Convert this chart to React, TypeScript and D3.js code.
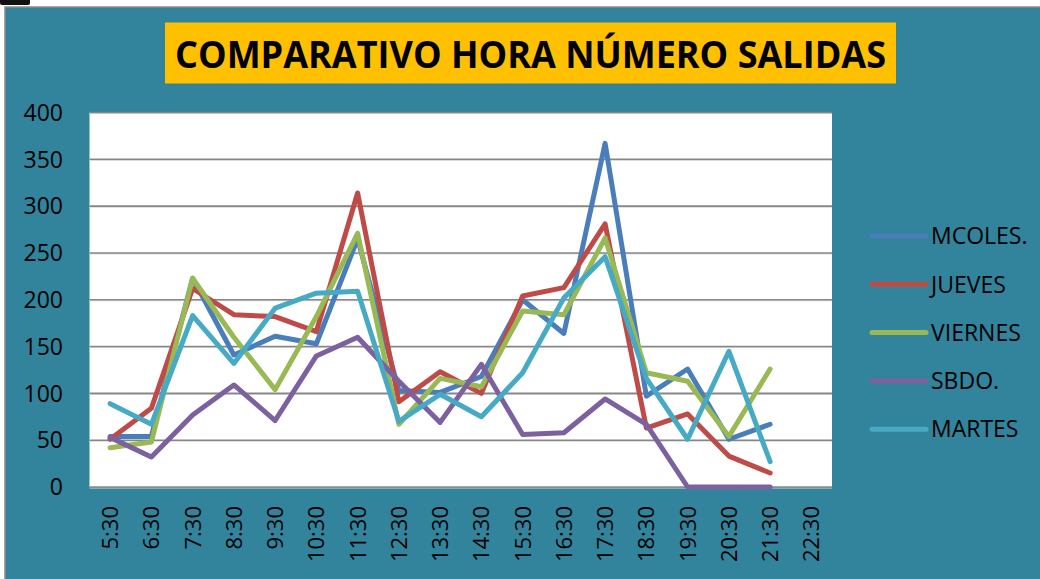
import React from "react";
import * as d3 from "d3";

const categories = ["5:30","6:30","7:30","8:30","9:30","10:30","11:30","12:30","13:30","14:30","15:30","16:30","17:30","18:30","19:30","20:30","21:30","22:30"];
const mcoles = [54, 54, 223, 141, 161, 153, 265, 103, 101, 118, 200, 164, 367, 97, 126, 51, 67, null];
const jueves = [51, 84, 212, 184, 182, 166, 314, 91, 123, 100, 204, 213, 281, 63, 78, 33, 15, null];
const viernes = [42, 48, 223, 160, 104, 182, 271, 67, 116, 107, 188, 184, 266, 122, 113, 54, 126, null];
const sbdo = [53, 32, 77, 109, 71, 140, 160, 113, 69, 131, 56, 58, 94, 67, 0, 0, 0, null];
const martes = [89, 67, 183, 132, 191, 207, 209, 70, 99, 75, 122, 202, 246, 116, 51, 145, 27, null];
const yTicks = [0, 50, 100, 150, 200, 250, 300, 350, 400];
const seriesNames = ["MCOLES.", "JUEVES", "VIERNES", "SBDO.", "MARTES"];
const seriesColors = ["#4A7EBB", "#BE4B48", "#98B954", "#7D60A0", "#46AAC5"];
const seriesData = [mcoles, jueves, viernes, sbdo, martes];
const title = "COMPARATIVO HORA NÚMERO SALIDAS";

const W = 1040, H = 579;
const plot = { left: 89.5, right: 832, top: 112.5, bottom: 487 };
const FONT = "'Open Sans', 'DejaVu Sans', sans-serif";

export default function App() {
  const x = d3.scaleBand<string>().domain(categories).range([plot.left, plot.right]);
  const y = d3.scaleLinear().domain([0, 400]).range([plot.bottom, plot.top]);
  const cx = (c: string) => (x(c) as number) + x.bandwidth() / 2;

  const line = d3.line<number | null>()
    .defined((d) => d !== null)
    .x((_, i) => cx(categories[i]))
    .y((d) => y(d as number));

  return (
    <svg width={W} height={H} style={{ position: "absolute", left: 0, top: 0, background: "#fff" }}>
      {/* top remnants */}
      <rect x={0} y={-4} width={30} height={9} rx={2} fill="#111" />
      {/* teal background */}
      <rect x={5} y={7} width={W} height={H} fill="#31849B" stroke="#8a8a8a" strokeWidth={1.5} />
      {/* title */}
      <rect x={165} y={22.5} width={731} height={61} fill="#FFC000" />
      <text x={530.5} y={67.5} textAnchor="middle" fontFamily={FONT} fontWeight={700} fontSize={37}
        textLength={711} lengthAdjust="spacingAndGlyphs" fill="#000">{title}</text>
      {/* plot area */}
      <rect x={plot.left} y={plot.top} width={plot.right - plot.left} height={plot.bottom - plot.top} fill="#fff" />
      {yTicks.map((t) => (
        <g key={t}>
          <line x1={plot.left} x2={plot.right} y1={y(t) + 1} y2={y(t) + 1} stroke="#d4d4d4" strokeWidth={1} />
          <line x1={plot.left} x2={plot.right} y1={y(t)} y2={y(t)} stroke="#868686" strokeWidth={1.6} />
          <text x={63} y={y(t)} dy="0.36em" textAnchor="end" fontFamily={FONT} fontSize={23} fill="#000">{t}</text>
        </g>
      ))}
      {categories.map((c) => (
        <text key={c} transform={`translate(${cx(c) + 8},506) rotate(-90)`} textAnchor="end"
          fontFamily={FONT} fontSize={22} fill="#000">{c}</text>
      ))}
      {seriesData.map((s, i) => (
        <path key={seriesNames[i]} d={line(s) || ""} fill="none" stroke={seriesColors[i]} strokeWidth={5}
          strokeLinejoin="round" strokeLinecap="round" />
      ))}
      {seriesNames.map((n, i) => {
        const ly = 236 + i * 48.3;
        return (
          <g key={n}>
            <line x1={872} x2={926} y1={ly} y2={ly} stroke={seriesColors[i]} strokeWidth={5} strokeLinecap="round" />
            <text x={931} y={ly} dy="0.36em" fontFamily={FONT} fontSize={23} fill="#000">{n}</text>
          </g>
        );
      })}
    </svg>
  );
}
